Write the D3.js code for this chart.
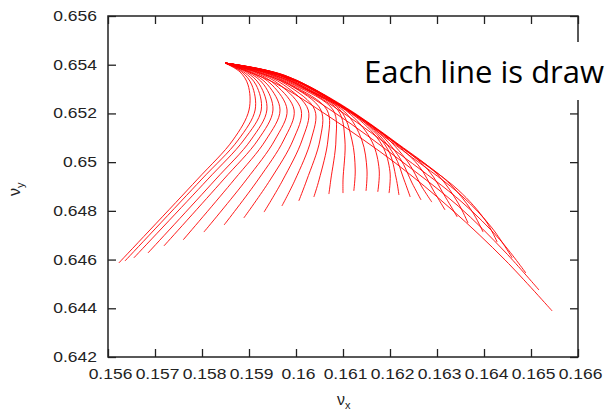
<!DOCTYPE html>
<html>
<head>
<meta charset="utf-8">
<script src="https://cdn.jsdelivr.net/npm/d3@7"></script>
<style>
  body { margin: 0; background: #fff; }
  svg { display: block; }
</style>
</head>
<body>
<svg id="chart" width="606" height="410"></svg>
<script>
// tick values and labels
let xTicks = [0.156, 0.157, 0.158, 0.159, 0.16, 0.161, 0.162, 0.163, 0.164, 0.165, 0.166];
let xTickLabels = ["0.156", "0.157", "0.158", "0.159", "0.16", "0.161", "0.162", "0.163", "0.164", "0.165", "0.166"];
let yTicks = [0.642, 0.644, 0.646, 0.648, 0.65, 0.652, 0.654, 0.656];
let yTickLabels = ["0.642", "0.644", "0.646", "0.648", "0.65", "0.652", "0.654", "0.656"];

// all lines start at the zero amplitude tune
let start = [0.15849, 0.65407];

// left family: x read at fixed nu_y levels, then the end point
let leftLevelY = [0.65370, 0.65317, 0.65214, 0.65091, 0.64927];
let leftX = [
    [0.15881, 0.15898, 0.15900, 0.15866, 0.15789],
    [0.15885, 0.15906, 0.15913, 0.15877, 0.15798],
    [0.15889, 0.15915, 0.15926, 0.15889, 0.15811],
    [0.15894, 0.15923, 0.15938, 0.15904, 0.15828],
    [0.15898, 0.15932, 0.15951, 0.15919, 0.15845],
    [0.15902, 0.15940, 0.15966, 0.15936, 0.15868],
    [0.15906, 0.15949, 0.15981, 0.15955, 0.15894],
    [0.15911, 0.15957, 0.15996, 0.15974, 0.15919],
    [0.15915, 0.15966, 0.16011, 0.15994, 0.15945],
    [0.15919, 0.15974, 0.16026, 0.16013, 0.15972],
    [0.15923, 0.15981, 0.16040, 0.16032, 0.15998],
    [0.15928, 0.15987, 0.16053, 0.16051, 0.16023],
    [0.15932, 0.15991, 0.16066, 0.16068, 0.16049],
    [0.15936, 0.15996, 0.16079, 0.16085, 0.16074],
    [0.15940, 0.16000, 0.16089, 0.16104, 0.16100]
];
let leftEnd = [
    [0.15623, 0.64586], [0.15636, 0.64594], [0.15655, 0.64607], [0.15685, 0.64627],
    [0.15719, 0.64656], [0.15760, 0.64681], [0.15804, 0.64713], [0.15847, 0.64742],
    [0.15889, 0.64771], [0.15932, 0.64795], [0.15970, 0.64820], [0.16006, 0.64841],
    [0.16038, 0.64857], [0.16070, 0.64869], [0.16100, 0.64873]
];

// right family: points after the start
let rightCurves = [
    [[0.15945, 0.65370], [0.16009, 0.65313], [0.16094, 0.65214], [0.16119, 0.65091], [0.16126, 0.64968], [0.16123, 0.64882]],
    [[0.15949, 0.65370], [0.16017, 0.65304], [0.16104, 0.65206], [0.16140, 0.65091], [0.16151, 0.64968], [0.16149, 0.64882]],
    [[0.15953, 0.65366], [0.16026, 0.65300], [0.16115, 0.65198], [0.16162, 0.65083], [0.16177, 0.64968], [0.16174, 0.64878]],
    [[0.15957, 0.65366], [0.16034, 0.65292], [0.16128, 0.65185], [0.16183, 0.65070], [0.16200, 0.64960], [0.16198, 0.64873]],
    [[0.15962, 0.65362], [0.16043, 0.65288], [0.16140, 0.65173], [0.16196, 0.65050], [0.16213, 0.64935], [0.16219, 0.64865]],
    [[0.15966, 0.65362], [0.16051, 0.65280], [0.16153, 0.65157], [0.16209, 0.65029], [0.16230, 0.64927], [0.16243, 0.64857]],
    [[0.15970, 0.65358], [0.16060, 0.65272], [0.16166, 0.65140], [0.16221, 0.65017], [0.16247, 0.64914], [0.16266, 0.64845]],
    [[0.15974, 0.65358], [0.16068, 0.65263], [0.16179, 0.65124], [0.16238, 0.65001], [0.16268, 0.64898], [0.16289, 0.64836]],
    [[0.15979, 0.65354], [0.16077, 0.65255], [0.16191, 0.65107], [0.16260, 0.64988], [0.16294, 0.64878], [0.16317, 0.64804]],
    [[0.15983, 0.65350], [0.16085, 0.65247], [0.16204, 0.65091], [0.16281, 0.64968], [0.16319, 0.64853], [0.16343, 0.64775]],
    [[0.15987, 0.65345], [0.16094, 0.65239], [0.16217, 0.65075], [0.16302, 0.64947], [0.16345, 0.64832], [0.16366, 0.64750]],
    [[0.15991, 0.65341], [0.16102, 0.65226], [0.16230, 0.65054], [0.16323, 0.64919], [0.16374, 0.64800], [0.16398, 0.64713]],
    [[0.15996, 0.65337], [0.16111, 0.65214], [0.16243, 0.65034], [0.16345, 0.64886], [0.16404, 0.64758], [0.16428, 0.64672]],
    [[0.15991, 0.65341], [0.16104, 0.65218], [0.16243, 0.65025], [0.16353, 0.64861], [0.16417, 0.64730], [0.16460, 0.64607]],
    [[0.15983, 0.65337], [0.16094, 0.65210], [0.16232, 0.65017], [0.16353, 0.64836], [0.16434, 0.64681], [0.16489, 0.64545]],
    [[0.15970, 0.65333], [0.16083, 0.65202], [0.16221, 0.65009], [0.16345, 0.64820], [0.16445, 0.64631], [0.16517, 0.64475]],
    [[0.15955, 0.65325], [0.16072, 0.65185], [0.16211, 0.64997], [0.16332, 0.64804], [0.16445, 0.64598], [0.16545, 0.64389]]
];

let noteText = "Each line is draw";

let svg = d3.select("#chart");
let plotLeft = 108, plotRight = 578, plotTop = 16, plotBottom = 357;

let x = d3.scaleLinear().domain([0.156, 0.166]).range([plotLeft, plotRight]);
let y = d3.scaleLinear().domain([0.642, 0.656]).range([plotBottom, plotTop]);

// build the lines
let lines = [];
for (let i = 0; i < leftX.length; i++) {
    let pts = [start];
    leftLevelY.forEach((ly, k) => pts.push([leftX[i][k], ly]));
    pts.push(leftEnd[i]);
    lines.push(pts);
}
rightCurves.forEach(c => lines.push([start].concat(c)));

let lineGen = d3.line()
    .x(d => x(d[0]))
    .y(d => y(d[1]))
    .curve(d3.curveCatmullRom.alpha(0.5));

svg.append("g")
    .selectAll("path")
    .data(lines)
    .enter().append("path")
    .attr("d", lineGen)
    .attr("fill", "none")
    .attr("stroke", "#ff0000")
    .attr("stroke-width", 0.9);

// inward ticks on all four sides
let tickLen = 8;
svg.append("g").attr("transform", "translate(0," + plotBottom + ")")
    .call(d3.axisBottom(x).tickValues(xTicks).tickSize(-tickLen).tickFormat(""));
svg.append("g").attr("transform", "translate(0," + plotTop + ")")
    .call(d3.axisTop(x).tickValues(xTicks).tickSize(-tickLen).tickFormat(""));
svg.append("g").attr("transform", "translate(" + plotLeft + ",0)")
    .call(d3.axisLeft(y).tickValues(yTicks).tickSize(-tickLen).tickFormat(""));
svg.append("g").attr("transform", "translate(" + plotRight + ",0)")
    .call(d3.axisRight(y).tickValues(yTicks).tickSize(-tickLen).tickFormat(""));

svg.selectAll(".domain").remove();
svg.selectAll(".tick line").attr("stroke", "#222").attr("stroke-width", 1.3);

svg.append("rect")
    .attr("x", plotLeft).attr("y", plotTop)
    .attr("width", plotRight - plotLeft).attr("height", plotBottom - plotTop)
    .attr("fill", "none")
    .attr("stroke", "#222")
    .attr("stroke-width", 1.5);

// tick labels (stretched horizontally like the source image)
let labelFont = "'Liberation Sans', Arial, Helvetica, sans-serif";
svg.append("g")
    .selectAll("text")
    .data(xTicks)
    .enter().append("text")
    .attr("transform", (d) => "translate(" + (x(d) + 2.5) + "," + (plotBottom + 22) + ") scale(1.25,1)")
    .attr("text-anchor", "middle")
    .attr("font-family", labelFont)
    .attr("font-size", 14)
    .attr("fill", "#222")
    .text((d, i) => xTickLabels[i]);

svg.append("g")
    .selectAll("text")
    .data(yTicks)
    .enter().append("text")
    .attr("transform", (d) => "translate(" + (plotLeft - 11) + "," + (y(d) + 5) + ") scale(1.25,1)")
    .attr("text-anchor", "end")
    .attr("font-family", labelFont)
    .attr("font-size", 14)
    .attr("fill", "#222")
    .text((d, i) => yTickLabels[i]);

// axis titles
let xt = svg.append("text")
    .attr("x", 337).attr("y", 405)
    .attr("font-family", labelFont)
    .attr("font-size", 16)
    .attr("fill", "#222");
xt.append("tspan").text("ν");
xt.append("tspan").attr("font-size", 11).attr("dy", 4).text("x");

let yt = svg.append("text")
    .attr("transform", "translate(20,196) rotate(-90)")
    .attr("font-family", labelFont)
    .attr("font-size", 16)
    .attr("fill", "#222");
yt.append("tspan").text("ν");
yt.append("tspan").attr("font-size", 11).attr("dy", 4).text("y");

// overlaid note box
svg.append("rect")
    .attr("x", 355).attr("y", 42)
    .attr("width", 260).attr("height", 58)
    .attr("fill", "#fff");
svg.append("text")
    .attr("x", 364).attr("y", 83)
    .attr("font-family", "'Open Sans', 'Noto Sans', sans-serif")
    .attr("font-size", 31)
    .attr("fill", "#000")
    .text(noteText);
</script>
</body>
</html>
